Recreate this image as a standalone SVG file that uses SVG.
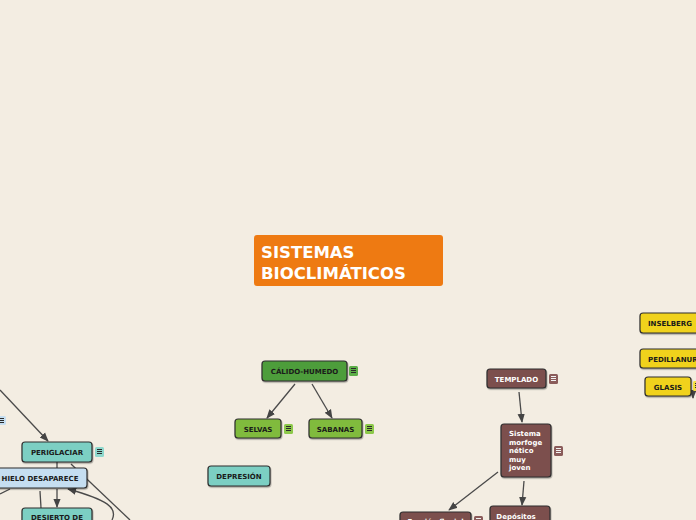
<svg xmlns="http://www.w3.org/2000/svg" width="696" height="520" viewBox="0 0 696 520">
<style>
.n{stroke:#2e2e2e;stroke-width:1.2}
.t{font-family:"DejaVu Sans",Verdana,sans-serif;font-weight:bold;font-size:7px;fill:#1a1a1a;text-anchor:middle}
.w{fill:#ffffff}
.s{text-anchor:start}
.c{fill:none;stroke:#4a4a4a;stroke-width:1.3}
.ic{stroke:none}
.il{stroke:#2a2a2a;stroke-width:1;fill:none}
.ilw{stroke:#f2f2f2;stroke-width:1;fill:none}
</style>
<defs>
<marker id="a" viewBox="0 0 10 10" refX="9" refY="5" markerWidth="7" markerHeight="7" orient="auto-start-reverse">
<path d="M0,1 L10,5 L0,9 Z" fill="#444"/>
</marker>
<filter id="sh" x="-20%" y="-20%" width="140%" height="150%">
<feDropShadow dx="0.6" dy="1.2" stdDeviation="0.6" flood-color="#000" flood-opacity="0.35"/>
</filter>
</defs>
<rect width="696" height="520" fill="#f3ede2"/>

<g id="connectors">
<path class="c" d="M295,384 L267,418" marker-end="url(#a)"/>
<path class="c" d="M312,384 L332,418" marker-end="url(#a)"/>
<path class="c" d="M0,390 L48,441" marker-end="url(#a)"/>
<path class="c" d="M71,464 L130,520"/>
<path class="c" d="M57,462 L57,468"/>
<path class="c" d="M57,489 L57,507" marker-end="url(#a)"/>
<path class="c" d="M40,491 L41,508"/>
<path class="c" d="M0,494 L10,489"/>
<path class="c" d="M112,520 C118,508 108,500 68,489" marker-end="url(#a)"/>
<path class="c" d="M519,392 L522,422" marker-end="url(#a)"/>
<path class="c" d="M498,472 L449,510" marker-end="url(#a)"/>
<path class="c" d="M524,481 L522,505" marker-end="url(#a)"/>
<path class="c" d="M693,396 L693,398" marker-end="url(#a)"/>
</g>

<g id="central">
<rect x="254" y="235" width="189" height="51" rx="3" fill="#ee7a12"/>
<text x="261" y="258" font-family="'DejaVu Sans',Verdana,sans-serif" font-weight="bold" font-size="16.5" fill="#fff">SISTEMAS</text>
<text x="261" y="279" font-family="'DejaVu Sans',Verdana,sans-serif" font-weight="bold" font-size="16.5" fill="#fff">BIOCLIMÁTICOS</text>
</g>

<g id="calido">
<rect class="n" x="262" y="361" width="85" height="20" rx="3" fill="#4e9d3b" filter="url(#sh)"/>
<text class="t" x="304.5" y="374">CÁLIDO-HUMEDO</text>
<rect class="ic" x="349" y="366" width="9" height="10" rx="1.5" fill="#5cae48"/>
<path class="il" d="M351,368.5H356M351,370.5H356M351,372.5H356"/>
</g>

<g id="selvas">
<rect class="n" x="235" y="419" width="46" height="19" rx="3" fill="#80bb3d" filter="url(#sh)"/>
<text class="t" x="258" y="432">SELVAS</text>
<rect class="ic" x="284" y="424" width="9" height="10" rx="1.5" fill="#8cc84a"/>
<path class="il" d="M286,426.5H291M286,428.5H291M286,430.5H291"/>
</g>

<g id="sabanas">
<rect class="n" x="309" y="419" width="53" height="19" rx="3" fill="#80bb3d" filter="url(#sh)"/>
<text class="t" x="335.5" y="432">SABANAS</text>
<rect class="ic" x="365" y="424" width="9" height="10" rx="1.5" fill="#8cc84a"/>
<path class="il" d="M367,426.5H372M367,428.5H372M367,430.5H372"/>
</g>

<g id="depresion">
<rect class="n" x="208" y="466" width="62" height="20" rx="3" fill="#7ccfc3" filter="url(#sh)"/>
<text class="t" x="239" y="479">DEPRESIÓN</text>
</g>

<g id="icon-left">
<rect class="ic" x="-3" y="416" width="9" height="9" rx="1.5" fill="#c5def1"/>
<path class="il" d="M-1,418.5H4M-1,420.5H4M-1,422.5H4"/>
</g>

<g id="periglaciar">
<rect class="n" x="22" y="442" width="70" height="20" rx="3" fill="#7ccfc3" filter="url(#sh)"/>
<text class="t" x="57" y="455">PERIGLACIAR</text>
<rect class="ic" x="95" y="447" width="9" height="10" rx="1.5" fill="#8ed8cd"/>
<path class="il" d="M97,449.5H102M97,451.5H102M97,453.5H102"/>
</g>

<g id="hielo">
<rect class="n" x="-6" y="468" width="93" height="20" rx="3" fill="#c5def1" filter="url(#sh)"/>
<text class="t" x="40" y="481">HIELO DESAPARECE</text>
</g>

<g id="desierto">
<rect class="n" x="22" y="508" width="70" height="20" rx="3" fill="#7ccfc3" filter="url(#sh)"/>
<text class="t" x="57" y="520">DESIERTO DE</text>
</g>

<g id="templado">
<rect class="n" x="487" y="369" width="59" height="19" rx="3" fill="#7b4f4e" filter="url(#sh)"/>
<text class="t w" x="516.5" y="381.5">TEMPLADO</text>
<rect class="ic" x="549" y="374" width="9" height="10" rx="1.5" fill="#8a5c5a"/>
<path class="ilw" d="M551,376.5H556M551,378.5H556M551,380.5H556"/>
</g>

<g id="sistema">
<rect class="n" x="501" y="424" width="50" height="53" rx="3" fill="#7b4f4e" filter="url(#sh)"/>
<text class="t w s" x="509" y="436">Sistema</text>
<text class="t w s" x="509" y="444.5">morfoge</text>
<text class="t w s" x="509" y="453">nético</text>
<text class="t w s" x="509" y="461.5">muy</text>
<text class="t w s" x="509" y="470">joven</text>
<rect class="ic" x="554" y="446" width="9" height="10" rx="1.5" fill="#8a5c5a"/>
<path class="ilw" d="M556,448.5H561M556,450.5H561M556,452.5H561"/>
</g>

<g id="erosion">
<rect class="n" x="400" y="512" width="71" height="20" rx="3" fill="#7b4f4e" filter="url(#sh)"/>
<text class="t w" x="435.5" y="523.5">Erosión fluvial</text>
<rect class="ic" x="474" y="516" width="9" height="10" rx="1.5" fill="#8a5c5a"/>
<path class="ilw" d="M476,518.5H481"/>
</g>

<g id="depositos">
<rect class="n" x="490" y="506" width="60" height="20" rx="3" fill="#7b4f4e" filter="url(#sh)"/>
<text class="t w" x="516" y="518.5">Depósitos</text>
</g>

<g id="inselberg">
<rect class="n" x="640" y="313" width="62" height="20" rx="3" fill="#f0d21e" filter="url(#sh)"/>
<text class="t" x="670" y="326">INSELBERG</text>
</g>

<g id="pedillanura">
<rect class="n" x="640" y="349" width="70" height="19" rx="3" fill="#f0d21e" filter="url(#sh)"/>
<text class="t s" x="648" y="361.5">PEDILLANURA</text>
</g>

<g id="glasis">
<rect class="n" x="645" y="377" width="46" height="19" rx="3" fill="#f0d21e" filter="url(#sh)"/>
<text class="t" x="668" y="389.5">GLASIS</text>
<rect class="ic" x="693" y="381" width="9" height="10" rx="1.5" fill="#f5de40"/>
<path class="il" d="M695,383.5H700M695,385.5H700M695,387.5H700"/>
</g>
</svg>
